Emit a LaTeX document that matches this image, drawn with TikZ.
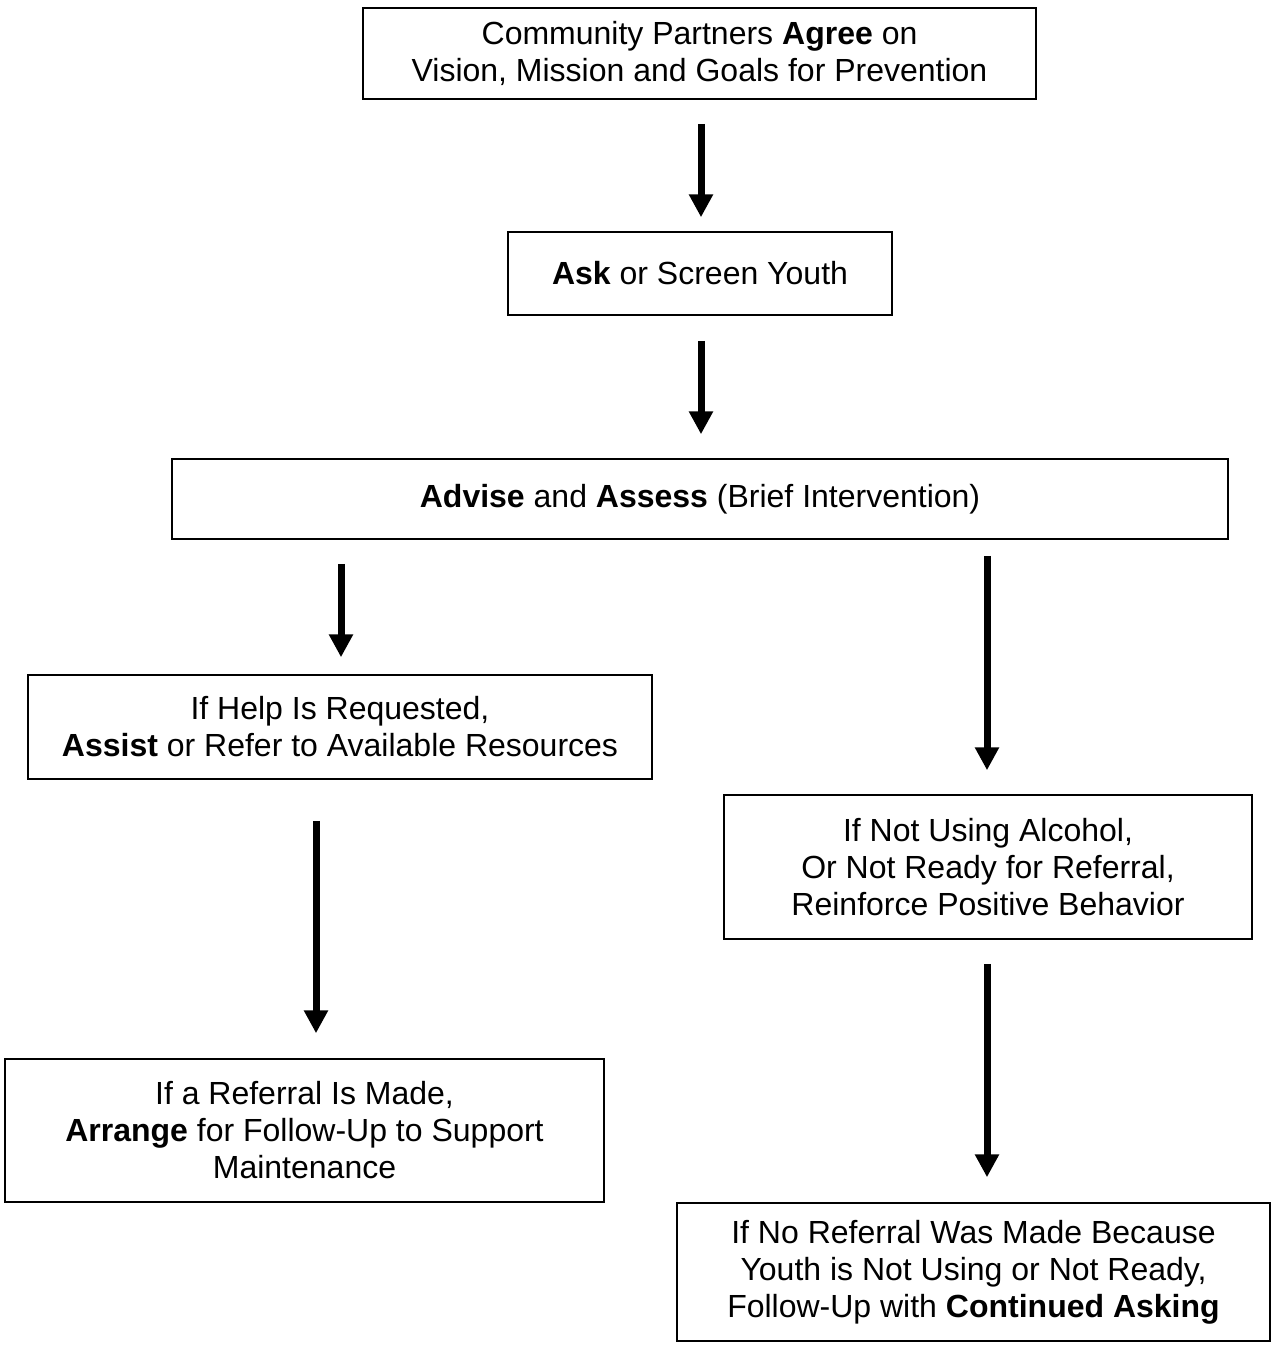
\documentclass[tikz,border=0pt]{standalone}
\usepackage{fontspec}
\setmainfont{Liberation Sans}
\usetikzlibrary{arrows.meta}
\begin{document}
\begin{tikzpicture}[x=1pt,y=-1pt,
  box/.style={draw=black,line width=1.5pt,inner sep=0pt,align=center,
    font=\fontsize{32}{37}\selectfont},
  arr/.style={line width=7pt,-{Triangle[width=23pt,length=23pt]}}]
\useasboundingbox[fill=white] (0,0) rectangle (1274,1349);
\node[box,minimum width=673pt,minimum height=91pt] (top) at (699.5,53.5)
  {Community Partners \textbf{Agree} on\\Vision, Mission and Goals for Prevention};
\node[box,minimum width=384pt,minimum height=83pt] (ask) at (700,273.5)
  {\textbf{Ask} or Screen Youth};
\node[box,minimum width=1056pt,minimum height=80pt] (adv) at (700,499)
  {\textbf{Advise} and \textbf{Assess} (Brief Intervention)};
\node[box,minimum width=624pt,minimum height=104pt] (help) at (340,727)
  {If Help Is Requested,\\\textbf{Assist} or Refer to Available Resources};
\node[box,minimum width=528pt,minimum height=144pt] (notuse) at (988,867)
  {If Not Using Alcohol,\\Or Not Ready for Referral,\\Reinforce Positive Behavior};
\node[box,minimum width=599pt,minimum height=143pt] (ref) at (304.5,1130.5)
  {If a Referral Is Made,\\\textbf{Arrange} for Follow-Up to Support\\Maintenance};
\node[box,minimum width=593pt,minimum height=138pt] (noref) at (973.5,1272)
  {If No Referral Was Made Because\\Youth is Not Using or Not Ready,\\Follow-Up with \textbf{Continued Asking}};
\draw[arr,shorten <=24pt,shorten >=14pt] ([xshift=1.5pt]top.south) -- ([xshift=1pt]ask.north);
\draw[arr,shorten <=25pt,shorten >=24pt] ([xshift=1pt]ask.south) -- ([xshift=1pt]adv.north);
\draw[arr,shorten <=24pt,shorten >=17pt] ([xshift=1pt]help.north |- adv.south) -- ([xshift=1pt]help.north);
\draw[arr,shorten <=16pt,shorten >=24pt] ([xshift=-1pt]notuse.north |- adv.south) -- ([xshift=-1pt]notuse.north);
\draw[arr,shorten <=41pt,shorten >=25pt] ([xshift=11.5pt]ref.north |- help.south) -- ([xshift=11.5pt]ref.north);
\draw[arr,shorten <=24pt,shorten >=25pt] ([xshift=-1pt]notuse.south) -- ([xshift=-1pt]notuse.south |- noref.north);
\end{tikzpicture}
\end{document}
